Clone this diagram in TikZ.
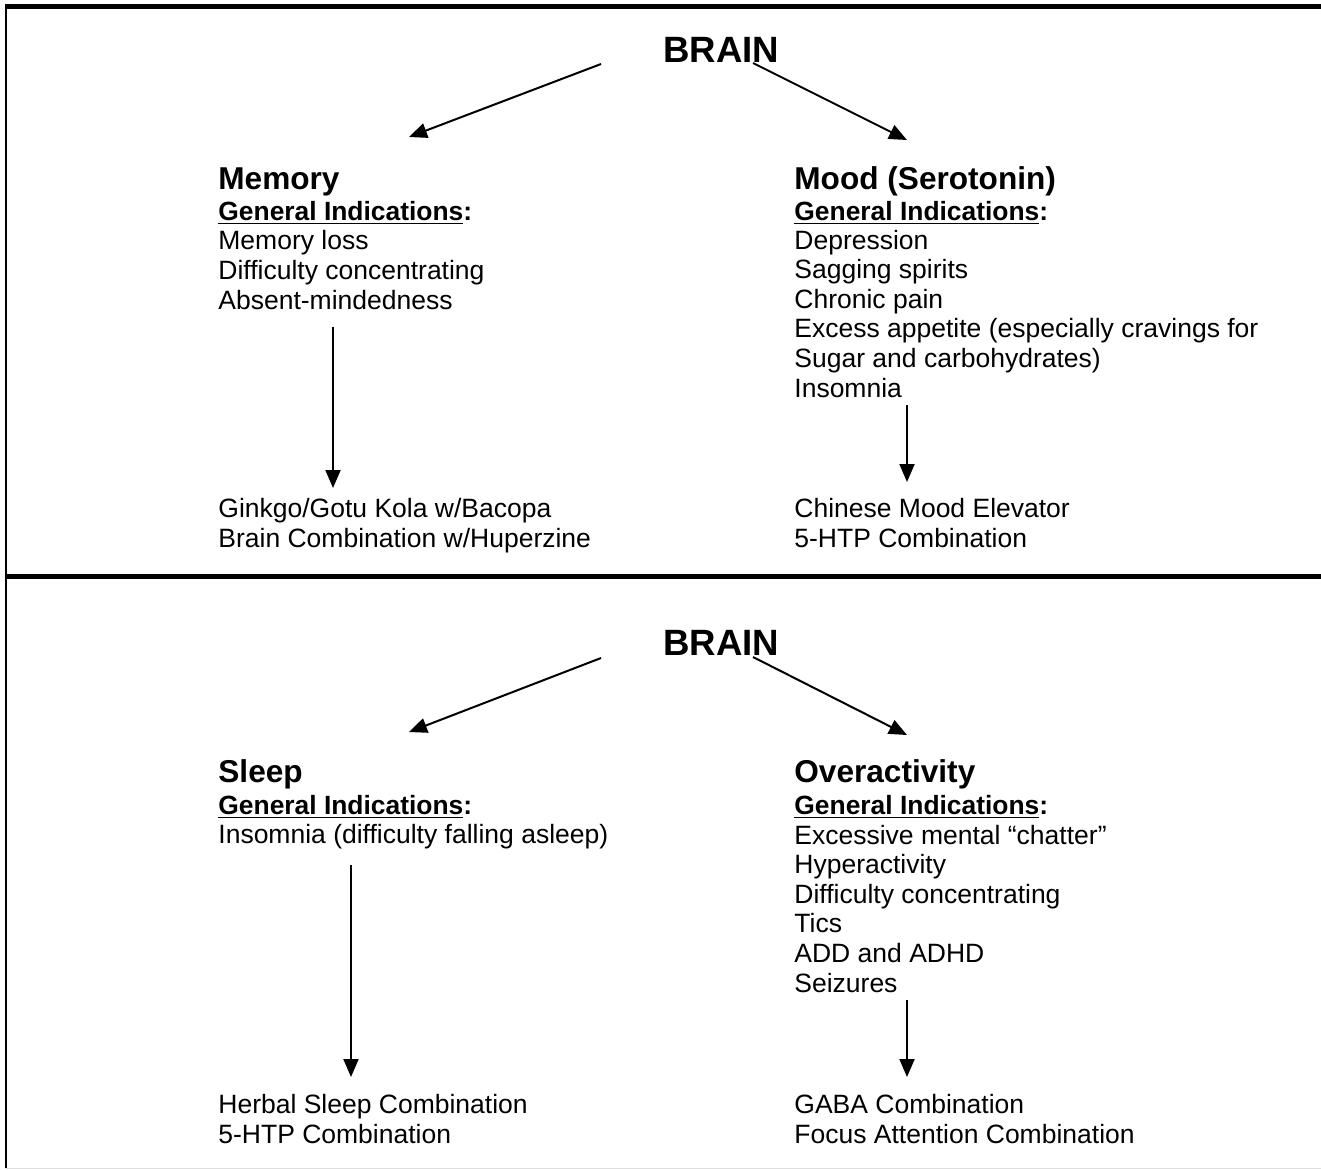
\documentclass[tikz,border=0pt]{standalone}
\usepackage{fontspec}
\setmainfont{Liberation Sans}
\usetikzlibrary{arrows.meta}

\tikzset{
  brainlbl/.style={anchor=base west, inner sep=0pt, font=\fontsize{18.3}{22}\selectfont\bfseries},
  headlbl/.style={anchor=base west, inner sep=0pt, font=\fontsize{15.8}{18}\selectfont\bfseries},
  genlbl/.style={anchor=base west, inner sep=0pt, font=\fontsize{13.2}{15}\selectfont\bfseries},
  itemlbl/.style={anchor=base west, inner sep=0pt, align=left, font=\fontsize{13.25}{14.8}\selectfont},
  arrowline/.style={line width=1pt, -{Triangle[length=9pt,width=7.5pt]}},
  rule/.style={line width=2.5pt},
}

\begin{document}
\begin{tikzpicture}[x=0.5pt,y=-0.5pt]
	\useasboundingbox (0,0) rectangle (1321,1169);
	% frame
	\draw[rule] (5,6) -- (1321,6);
	\draw[line width=1pt] (5.5,4) -- (5.5,1169);
	\draw[rule] (5,576) -- (1321,576);
	\draw[gray!25, line width=0.5pt] (5,1168) -- (1321,1168);

	% upper panel (lists are placed by their last baseline)
	\node[brainlbl] (brainA) at (663,62) {BRAIN};
	\node[headlbl] (memory) at (218,189) {Memory};
	\node[genlbl] (genmemory) at (218,220) {\underline{General Indications}:};
	\node[itemlbl] (memlist) at (218,309) {Memory loss\\Difficulty concentrating\\Absent-mindedness};
	\node[itemlbl] (memcure) at (218,547) {Ginkgo/Gotu Kola w/Bacopa\\Brain Combination w/Huperzine};
	\node[headlbl] (mood) at (794,189) {Mood (Serotonin)};
	\node[genlbl] (genmood) at (794,220) {\underline{General Indications}:};
	\node[itemlbl] (moodlist) at (794,397) {Depression\\Sagging spirits\\Chronic pain\\Excess appetite (especially cravings for\\Sugar and carbohydrates)\\Insomnia};
	\node[itemlbl] (moodcure) at (794,547) {Chinese Mood Elevator\\5-HTP Combination};
	\coordinate (aL) at (601,64);
	\coordinate (aR) at (753,63);
	\coordinate (tipmemory) at (409,137);
	\coordinate (tipmood) at (907,140);
	\draw[arrowline] (aL) -- (tipmemory);
	\draw[arrowline] (aR) -- (tipmood);
	\coordinate (memfrom) at (333,327);
	\coordinate (memto) at (333,488);
	\coordinate (moodfrom) at (907,405);
	\coordinate (moodto) at (907,482);
	\draw[arrowline] (memfrom) -- (memto);
	\draw[arrowline] (moodfrom) -- (moodto);

	% lower panel
	\node[brainlbl] (brainB) at (663,655) {BRAIN};
	\node[headlbl] (sleep) at (218,782) {Sleep};
	\node[genlbl] (gensleep) at (218,814) {\underline{General Indications}:};
	\node[itemlbl] (sleeplist) at (218,843) {Insomnia (difficulty falling asleep)};
	\node[itemlbl] (sleepcure) at (218,1143) {Herbal Sleep Combination\\5-HTP Combination};
	\node[headlbl] (overact) at (794,782) {Overactivity};
	\node[genlbl] (genoveract) at (794,814) {\underline{General Indications}:};
	\node[itemlbl] (overlist) at (794,992) {Excessive mental “chatter”\\Hyperactivity\\Difficulty concentrating\\Tics\\ADD and ADHD\\Seizures};
	\node[itemlbl] (overcure) at (794,1143) {GABA Combination\\Focus Attention Combination};
	\coordinate (bL) at (601,658);
	\coordinate (bR) at (753,657);
	\coordinate (tipsleep) at (409,732);
	\coordinate (tipoveract) at (907,735);
	\draw[arrowline] (bL) -- (tipsleep);
	\draw[arrowline] (bR) -- (tipoveract);
	\coordinate (sleepfrom) at (351,865);
	\coordinate (sleepto) at (351,1077);
	\coordinate (overfrom) at (907,1000);
	\coordinate (overto) at (907,1077);
	\draw[arrowline] (sleepfrom) -- (sleepto);
	\draw[arrowline] (overfrom) -- (overto);
\end{tikzpicture}
\end{document}
